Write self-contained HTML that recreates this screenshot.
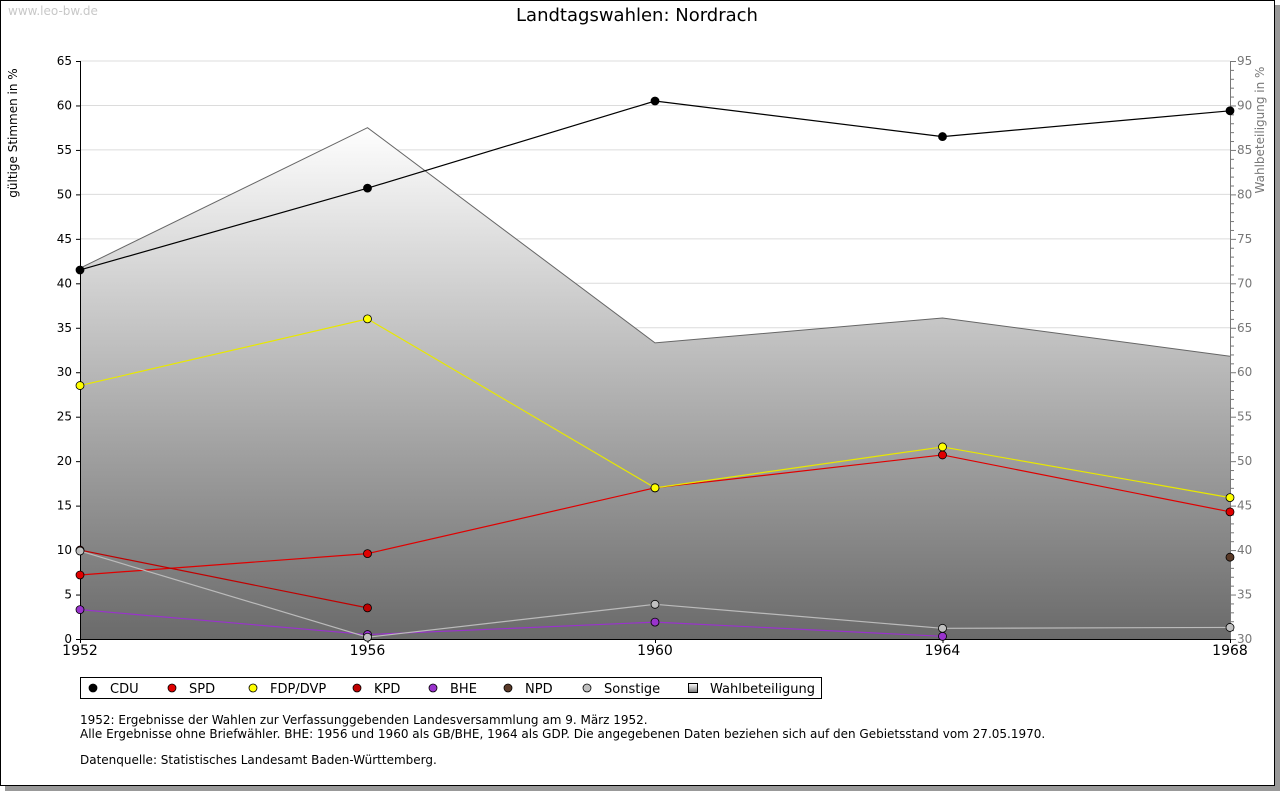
<!DOCTYPE html>
<html><head><meta charset="utf-8"><style>
body{margin:0;background:#fff;}
svg{display:block;font-family:"DejaVu Sans","Liberation Sans",sans-serif;}
</style></head><body>
<svg id="c" width="1280" height="791" xmlns="http://www.w3.org/2000/svg">
<defs><linearGradient id="g" x1="0" y1="125" x2="0" y2="639" gradientUnits="userSpaceOnUse"><stop offset="0" stop-color="#ffffff"/><stop offset="1" stop-color="#6a6a6a"/></linearGradient>
<linearGradient id="lg" x1="0" y1="0" x2="0" y2="1"><stop offset="0" stop-color="#fff"/><stop offset="1" stop-color="#777"/></linearGradient></defs>
<rect x="5" y="5" width="1275" height="786" fill="#999"/>
<rect x="0.5" y="0.5" width="1274" height="785" fill="#fff" stroke="#000"/>
<text x="8" y="15" font-size="12" fill="#c8c8c8">www.leo-bw.de</text>
<text x="637" y="21" font-size="18" text-anchor="middle">Landtagswahlen: Nordrach</text>
<text transform="translate(17,133) rotate(-90)" font-size="12" text-anchor="middle">gültige Stimmen in %</text>
<text transform="translate(1264,130) rotate(-90)" font-size="12" fill="#777" text-anchor="middle">Wahlbeteiligung in %</text>
<g id="plot"></g>
<g>
<rect x="80.5" y="677.5" width="741" height="21" fill="#fff" stroke="#000"/>
<g id="leg"></g></g>
<g font-size="12">
<text x="80" y="724">1952: Ergebnisse der Wahlen zur Verfassunggebenden Landesversammlung am 9. März 1952.</text>
<text x="80" y="738">Alle Ergebnisse ohne Briefwähler. BHE: 1956 und 1960 als GB/BHE, 1964 als GDP. Die angegebenen Daten beziehen sich auf den Gebietsstand vom 27.05.1970.</text>
<text x="80" y="764">Datenquelle: Statistisches Landesamt Baden-Württemberg.</text>
</g>
</svg>
<script>
const years=[1952,1956,1960,1964,1968];
const leftTicks=[0,5,10,15,20,25,30,35,40,45,50,55,60,65];
const rightTicks=[30,35,40,45,50,55,60,65,70,75,80,85,90,95];
const turnout=[71.7,87.5,63.3,66.1,61.8];
const cdu=[41.5,50.7,60.5,56.5,59.4];
const spd=[7.2,9.6,17.0,20.7,14.3];
const fdp=[28.5,36.0,17.0,21.6,15.9];
const kpd=[10.0,3.5,null,null,null];
const bhe=[3.3,0.5,1.9,0.3,null];
const npd=[null,null,null,null,9.2];
const sonst=[9.9,0.2,3.9,1.2,1.3];
const NS='http://www.w3.org/2000/svg';
const X0=80,X1=1230,YT=61,YB=639;
const x=i=>X0+(X1-X0)*(years[i]-1952)/16;
const yl=v=>YB-(YB-YT)*v/65;
const yr=v=>YB-(YB-YT)*(v-30)/65;
const plot=document.getElementById('plot');
function mk(t,a,p){const e=document.createElementNS(NS,t);for(const k in a)e.setAttribute(k,a[k]);(p||plot).appendChild(e);return e;}
leftTicks.forEach(v=>{if(v>0){const l=mk('line',{x1:X0,x2:X1,y1:yl(v),y2:yl(v),stroke:'#dcdcdc'});

}});
let d='M'+x(0)+','+YB;turnout.forEach((v,i)=>d+=' L'+x(i)+','+yr(v));d+=' L'+x(4)+','+YB+'Z';
const ar=mk('path',{d:d,fill:'url(#g)'});


let dl='';turnout.forEach((v,i)=>dl+=(i?' L':'M')+x(i)+','+yr(v));
const al=mk('path',{d:dl,fill:'none',stroke:'#666'});


mk('line',{x1:X0+.5,x2:X0+.5,y1:YT,y2:YB,stroke:'#000'});
mk('line',{x1:X0,x2:X1,y1:YB+.5,y2:YB+.5,stroke:'#000'});
mk('line',{x1:X1+.5,x2:X1+.5,y1:YT,y2:YB,stroke:'#777'});
leftTicks.forEach(v=>{mk('line',{x1:76,x2:80,y1:yl(v)+.5,y2:yl(v)+.5,stroke:'#000'});
const t=mk('text',{x:72,y:yl(v)+4,'font-size':12,'text-anchor':'end'});t.textContent=v;

});
for(let v=30;v<=95;v++){mk('line',{x1:X1,x2:X1+(v%5?4:6),y1:yr(v)+.5,y2:yr(v)+.5,stroke:'#777'});}
rightTicks.forEach(v=>{const t=mk('text',{x:1237,y:yr(v)+4,'font-size':12,fill:'#777'});t.textContent=v;

});
years.forEach((yv,i)=>{mk('line',{x1:x(i)+.5,x2:x(i)+.5,y1:YB,y2:YB+4,stroke:'#000'});
const t=mk('text',{x:x(i),y:655,'font-size':14,'text-anchor':'middle'});t.textContent=yv;

});
const series=[['cdu',cdu,'#000','#000'],['spd',spd,'#e00000','#e00000'],['fdp',fdp,'#ffff00','#e8e800'],['kpd',kpd,'#c00000','#c00000'],['bhe',bhe,'#9933cc','#9933cc'],['npd',npd,'#5a3a28','#5a3a28'],['sonstige',sonst,'#c0c0c0','#bbbbbb']];
series.forEach(([n,arr,fill,line])=>{
let p='',pen=false;arr.forEach((v,i)=>{if(v==null){pen=false;return;}p+=(pen?' L':' M')+x(i)+','+yl(v);pen=true;});
if(p.split(/[ML]/).length>2){const l=mk('path',{d:p,fill:'none',stroke:line,'stroke-width':1.2});

}
arr.forEach((v,i)=>{if(v==null)return;const c=mk('circle',{cx:x(i),cy:yl(v),r:4,fill:fill,stroke:'#000','stroke-width':.8});

});});
const leg=document.getElementById('leg');
const items=[['CDU','#000',93],['SPD','#e00000',172],['FDP/DVP','#ffff00',253],['KPD','#c00000',357],['BHE','#9933cc',433],['NPD','#5a3a28',508],['Sonstige','#c0c0c0',587],['Wahlbeteiligung',null,693]];
items.forEach(([t,c,lx])=>{
if(c){mk('circle',{cx:lx,cy:688,r:4,fill:c,stroke:'#000','stroke-width':.8},leg);}
else{mk('rect',{x:lx-4.5,y:683.5,width:9,height:9,fill:'url(#lg)',stroke:'#000'},leg);}
const tx=mk('text',{x:lx+17,y:693,'font-size':13},leg);tx.textContent=t;

});
</script>
</body></html>
